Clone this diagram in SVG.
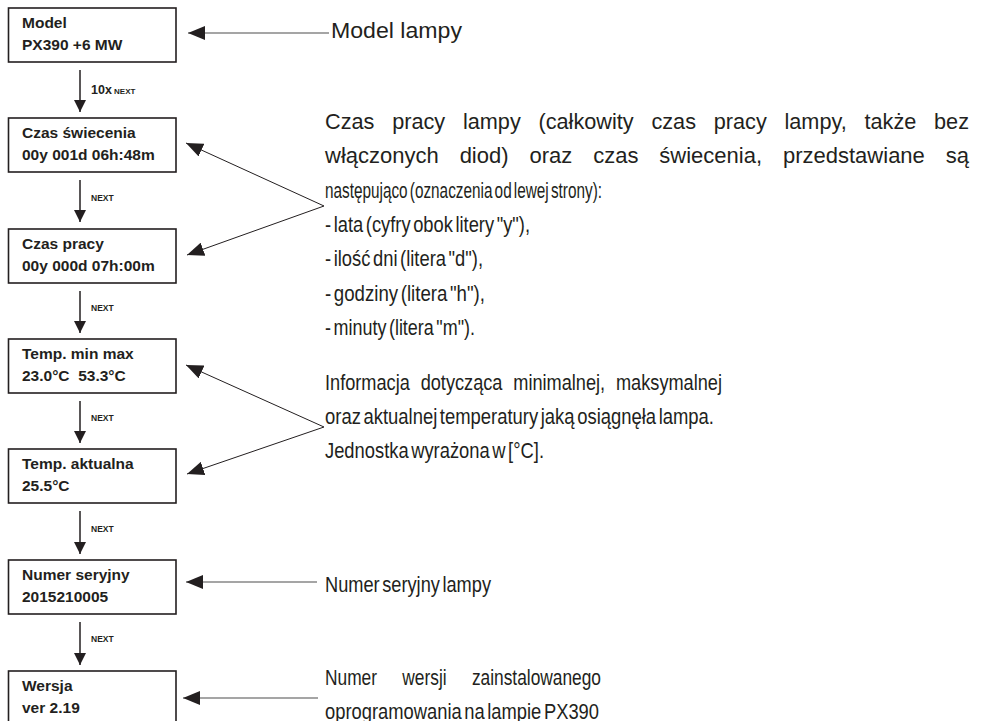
<svg xmlns="http://www.w3.org/2000/svg" width="981" height="721" viewBox="0 0 981 721">
<defs>
<style>
.box{fill:#fff;stroke:#231f20;stroke-width:1.6}
.bt{font-family:"Liberation Sans",Arial,sans-serif;font-weight:bold;font-size:15.5px;fill:#231f20}
.nx{font-family:"Liberation Sans",Arial,sans-serif;font-weight:bold;font-size:8.5px;fill:#231f20}
.tx{font-family:"Liberation Sans",Arial,sans-serif;font-size:22px;fill:#231f20}
.nar{word-spacing:-3px}
.down{stroke:#231f20;stroke-width:1.5;fill:none}
.ptr{stroke:#231f20;stroke-width:1;fill:none}
.hz{stroke:#4d4d4d;stroke-width:1.2;fill:none}
</style>
<marker id="dh" viewBox="0 0 12 12" refX="12" refY="6" markerWidth="12" markerHeight="12" markerUnits="userSpaceOnUse" orient="auto"><path d="M0,0 L12,6 L0,12 z" fill="#231f20"/></marker>
<marker id="ph" viewBox="0 0 17 14" refX="17" refY="7" markerWidth="17" markerHeight="14" markerUnits="userSpaceOnUse" orient="auto"><path d="M0,0 L17,7 L0,14 z" fill="#231f20"/></marker>
</defs>
<rect width="981" height="721" fill="#fff"/>

<g id="n-model"><rect class="box" x="8.5" y="8" width="167.5" height="54"/><text class="bt" x="22" y="28">Model</text><text class="bt" x="22" y="50">PX390 +6 MW</text></g>
<g id="n-swiecenie"><rect class="box" x="8.5" y="118" width="167.5" height="54"/><text class="bt" x="22" y="138">Czas świecenia</text><text class="bt" x="22" y="160">00y 001d 06h:48m</text></g>
<g id="n-praca"><rect class="box" x="8.5" y="229" width="167.5" height="54"/><text class="bt" x="22" y="249">Czas pracy</text><text class="bt" x="22" y="271">00y 000d 07h:00m</text></g>
<g id="n-tempminmax"><rect class="box" x="8.5" y="339" width="167.5" height="54"/><text class="bt" x="22" y="359">Temp. min max</text><text class="bt" x="22" y="381" xml:space="preserve">23.0°C  53.3°C</text></g>
<g id="n-tempakt"><rect class="box" x="8.5" y="449" width="167.5" height="54"/><text class="bt" x="22" y="469">Temp. aktualna</text><text class="bt" x="22" y="491">25.5°C</text></g>
<g id="n-numer"><rect class="box" x="8.5" y="560" width="167.5" height="54"/><text class="bt" x="22" y="580">Numer seryjny</text><text class="bt" x="22" y="602">2015210005</text></g>
<g id="n-wersja"><rect class="box" x="8.5" y="671" width="167.5" height="54"/><text class="bt" x="22" y="691">Wersja</text><text class="bt" x="22" y="713">ver 2.19</text></g>

<g id="connectors">
<line class="down" x1="80" y1="70" x2="80" y2="112" marker-end="url(#dh)"/>
<line class="down" x1="80" y1="180" x2="80" y2="222" marker-end="url(#dh)"/>
<line class="down" x1="80" y1="291" x2="80" y2="333" marker-end="url(#dh)"/>
<line class="down" x1="80" y1="401" x2="80" y2="443" marker-end="url(#dh)"/>
<line class="down" x1="80" y1="511" x2="80" y2="554" marker-end="url(#dh)"/>
<line class="down" x1="80" y1="622" x2="80" y2="665" marker-end="url(#dh)"/>
<text x="91" y="94" font-family="Liberation Sans, Arial, sans-serif" font-weight="bold" fill="#231f20"><tspan font-size="12.5">10x</tspan><tspan font-size="8"> NEXT</tspan></text>
<text class="nx" x="91" y="201">NEXT</text>
<text class="nx" x="91" y="311">NEXT</text>
<text class="nx" x="91" y="421">NEXT</text>
<text class="nx" x="91" y="532">NEXT</text>
<text class="nx" x="91" y="642">NEXT</text>
<line class="hz" x1="329" y1="33" x2="188" y2="33" marker-end="url(#ph)"/>
<line class="ptr" x1="324" y1="206" x2="186" y2="143" marker-end="url(#ph)"/>
<line class="ptr" x1="324" y1="206" x2="187" y2="255" marker-end="url(#ph)"/>
<line class="ptr" x1="324" y1="427" x2="186" y2="365" marker-end="url(#ph)"/>
<line class="ptr" x1="324" y1="427" x2="187" y2="474" marker-end="url(#ph)"/>
<line class="hz" x1="317" y1="582" x2="186" y2="582" marker-end="url(#ph)"/>
<line class="hz" x1="318" y1="698" x2="183" y2="698" marker-end="url(#ph)"/>
</g>

<g id="t-model"><text class="tx" x="331" y="38" font-size="22.5" textLength="131" lengthAdjust="spacingAndGlyphs">Model lampy</text></g>
<g id="t-czas">
<text class="tx" x="325" y="129" word-spacing="11.9" textLength="644" lengthAdjust="spacingAndGlyphs">Czas pracy lampy (całkowity czas pracy lampy, także bez</text>
<text class="tx" x="325" y="163" word-spacing="14.8" textLength="644" lengthAdjust="spacingAndGlyphs">włączonych diod) oraz czas świecenia, przedstawiane są</text>
<text class="tx nar" x="325" y="197.5" textLength="277" lengthAdjust="spacingAndGlyphs">następująco (oznaczenia od lewej strony):</text>
<text class="tx nar" x="325" y="232" textLength="205" lengthAdjust="spacingAndGlyphs">- lata (cyfry obok litery "y"),</text>
<text class="tx nar" x="325" y="266" textLength="158" lengthAdjust="spacingAndGlyphs">- ilość dni (litera "d"),</text>
<text class="tx nar" x="325" y="300.5" textLength="160" lengthAdjust="spacingAndGlyphs">- godziny (litera "h"),</text>
<text class="tx nar" x="325" y="335" textLength="150" lengthAdjust="spacingAndGlyphs">- minuty (litera "m").</text>
</g>
<g id="t-temp">
<text class="tx" x="325" y="390" word-spacing="7" textLength="397" lengthAdjust="spacingAndGlyphs">Informacja dotycząca minimalnej, maksymalnej</text>
<text class="tx nar" x="325" y="424" textLength="389" lengthAdjust="spacingAndGlyphs">oraz aktualnej temperatury jaką osiągnęła lampa.</text>
<text class="tx nar" x="325" y="458" textLength="219" lengthAdjust="spacingAndGlyphs">Jednostka wyrażona w [°C].</text>
</g>
<g id="t-numer"><text class="tx nar" x="325" y="592" textLength="166" lengthAdjust="spacingAndGlyphs">Numer seryjny lampy</text></g>
<g id="t-wersja">
<text class="tx" x="325" y="685" word-spacing="26" textLength="276" lengthAdjust="spacingAndGlyphs">Numer wersji zainstalowanego</text>
<text class="tx nar" x="325" y="719" textLength="274" lengthAdjust="spacingAndGlyphs">oprogramowania na lampie PX390</text>
</g>
</svg>
